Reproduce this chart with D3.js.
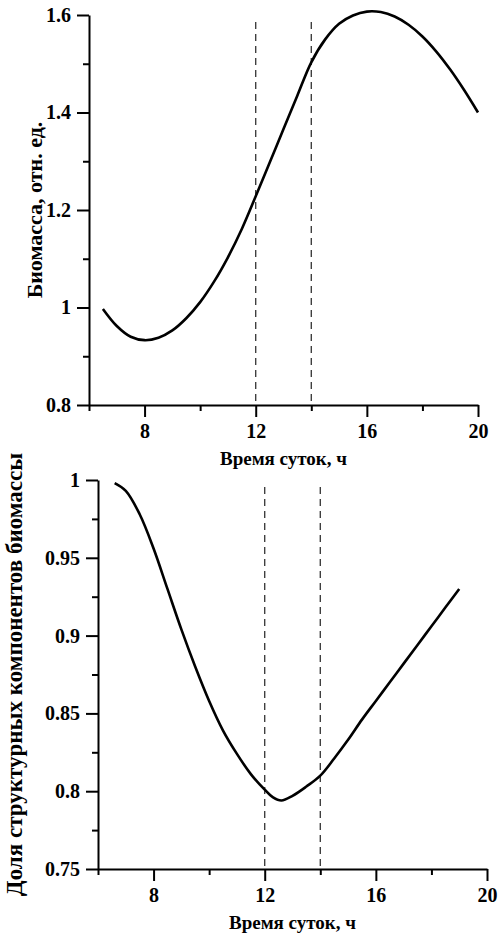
<!DOCTYPE html>
<html>
<head>
<meta charset="utf-8">
<script src="https://cdn.jsdelivr.net/npm/d3@7"></script>
<style>
  body { margin: 0; background: #fff; }
  svg { display: block; }
  text { font-family: "Liberation Serif", "Times New Roman", serif; font-weight: bold; fill: #000; }
</style>
</head>
<body>
<svg id="chart" width="501" height="933"></svg>
<script>
// Biomass over the day (top) and share of structural components (bottom)

const hoursTop = [6.5, 7, 7.5, 8, 8.5, 9, 9.5, 10, 10.5, 11, 11.5, 12, 12.5, 13, 13.5, 14,
  14.5, 15, 15.5, 16, 16.5, 17, 17.5, 18, 18.5, 19, 19.5, 20];
const biomass = [0.997, 0.962, 0.94, 0.933, 0.938, 0.953, 0.978, 1.011, 1.053, 1.103, 1.161, 1.228,
  1.297, 1.366, 1.435, 1.503, 1.55, 1.582, 1.599, 1.607, 1.606, 1.597, 1.58, 1.556, 1.525, 1.488, 1.446, 1.4];

const hoursBottom = [6.6, 7, 7.5, 8, 8.5, 9, 9.5, 10, 10.5, 11, 11.5, 12, 12.3, 12.6, 13, 13.5,
  14, 14.5, 15, 15.5, 16, 16.5, 17, 17.5, 18, 18.5, 19];
const structShare = [0.998, 0.993, 0.978, 0.956, 0.93, 0.904, 0.88, 0.858, 0.839, 0.824, 0.811,
  0.801, 0.796, 0.794, 0.797, 0.803, 0.81, 0.821, 0.833, 0.846, 0.858, 0.87, 0.882, 0.894, 0.906, 0.918, 0.93];

const xTicks = [8, 12, 16, 20];
const xMinor = [6, 10, 14, 18];
const markers = [12, 14];

const yTicksTop = [0.8, 1, 1.2, 1.4, 1.6];
const yMinorTop = [0.9, 1.1, 1.3, 1.5];
const yTicksBottom = [0.75, 0.8, 0.85, 0.9, 0.95, 1];
const yMinorBottom = [0.775, 0.825, 0.875, 0.925, 0.975];

const svg = d3.select('#chart');

const panel = (cfg) => {
  const x = d3.scaleLinear().domain([6, 20]).range([cfg.left, cfg.right]);
  const y = d3.scaleLinear().domain(cfg.yDomain).range([cfg.bottom, cfg.top]);
  const g = svg.append('g');

  // dashed markers
  g.selectAll('line.mark')
    .data(markers)
    .enter().append('line')
      .attr('class', 'mark')
      .attr('x1', d => x(d)).attr('x2', d => x(d))
      .attr('y1', cfg.dashTop).attr('y2', cfg.bottom)
      .attr('stroke', '#333')
      .attr('stroke-width', 1.3)
      .attr('stroke-dasharray', '7,5');

  // curve
  g.append('path')
    .datum(d3.zip(cfg.xs, cfg.ys))
    .attr('fill', 'none')
    .attr('stroke', '#000')
    .attr('stroke-width', 2.6)
    .attr('d', d3.line().x(d => x(d[0])).y(d => y(d[1])).curve(d3.curveCatmullRom.alpha(0.5)));

  // x axis
  const xAxis = g.append('g').attr('transform', `translate(0,${cfg.bottom})`);
  xAxis.call(d3.axisBottom(x).tickValues(xTicks).tickSize(12).tickSizeOuter(0).tickPadding(7).tickFormat(d3.format('d')));
  xAxis.append('g').call(d3.axisBottom(x).tickValues(xMinor).tickSize(6).tickFormat(''))
    .select('.domain').remove();

  // y axis
  const yAxis = g.append('g').attr('transform', `translate(${cfg.left},0)`);
  yAxis.call(d3.axisLeft(y).tickValues(cfg.yTicks).tickSize(12).tickSizeOuter(0).tickPadding(6).tickFormat(d => String(d)));
  yAxis.append('g').call(d3.axisLeft(y).tickValues(cfg.yMinor).tickSize(6).tickFormat(''))
    .select('.domain').remove();

  g.selectAll('.domain, .tick line').attr('stroke', '#000').attr('stroke-width', 2);
  g.selectAll('.tick text').style('font-size', '20px').style('font-family', '"Liberation Serif", serif').style('font-weight', 'bold');

  g.append('text')
    .attr('x', (cfg.left + cfg.right) / 2)
    .attr('y', cfg.bottom + 60)
    .attr('text-anchor', 'middle')
    .style('font-size', '19px')
    .text('Время суток, ч');

  g.append('text')
    .attr('transform', `translate(${cfg.titleX},${(cfg.top + cfg.bottom) / 2}) rotate(-90)`)
    .attr('text-anchor', 'middle')
    .style('font-size', cfg.titleSize)
    .text(cfg.title);
};

panel({
  left: 89, right: 478, top: 15, bottom: 405, dashTop: 22,
  yDomain: [0.8, 1.6], yTicks: yTicksTop, yMinor: yMinorTop,
  xs: hoursTop, ys: biomass,
  title: 'Биомасса, отн. ед.', titleX: 42, titleSize: '22px'
});

panel({
  left: 98, right: 487, top: 480, bottom: 869, dashTop: 487,
  yDomain: [0.75, 1], yTicks: yTicksBottom, yMinor: yMinorBottom,
  xs: hoursBottom, ys: structShare,
  title: 'Доля структурных компонентов биомассы', titleX: 22, titleSize: '23px'
});
</script>
</body>
</html>
